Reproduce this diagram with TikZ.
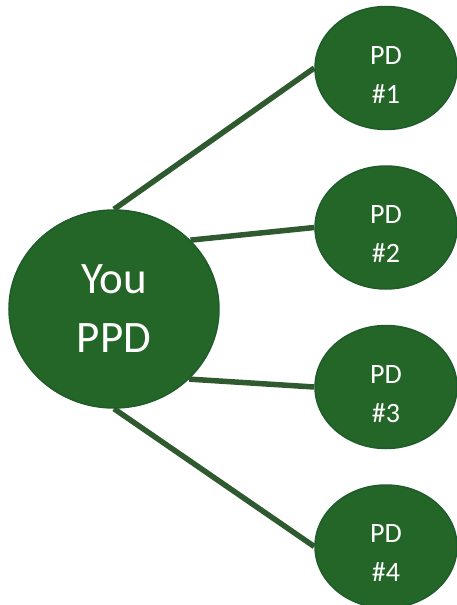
\documentclass[tikz,border=0pt]{standalone}
\usepackage{fontspec}
\setmainfont{Carlito}
\usetikzlibrary{shapes.geometric,positioning}
\definecolor{pdgreen}{HTML}{246627}
\definecolor{pdedge}{HTML}{1E5C2C}
\definecolor{linkgreen}{HTML}{2F5A30}

\begin{document}
\begin{tikzpicture}[x=1pt,y=1pt,
  bubble/.style={ellipse,draw=pdedge,line width=1.5pt,fill=pdgreen,text=white,align=center,inner sep=0pt},
  pd/.style={bubble,minimum width=142pt,minimum height=123pt,text height=70pt,text depth=0pt,font=\fontsize{28}{39}\selectfont},
  link/.style={linkgreen,line width=5.5pt}]
\useasboundingbox (0,0) rectangle (457,-605);
\node[bubble,minimum width=210pt,minimum height=198pt,font=\fontsize{45}{59}\selectfont] (you) at (114,-309) {You\\PPD};
\node[pd] (pd1) at (386,-68) {PD\\\#1};
\node[pd,below=35pt of pd1] (pd2) {PD\\\#2};
\node[pd,below=35pt of pd2] (pd3) {PD\\\#3};
\node[pd,below=35pt of pd3] (pd4) {PD\\\#4};
\draw[link] (you.90) -- (pd1.180);
\draw[link] (you.42) -- (pd2.180);
\draw[link] (you.-43) -- (pd3.180);
\draw[link] (you.-90) -- (pd4.180);
\end{tikzpicture}
\end{document}
